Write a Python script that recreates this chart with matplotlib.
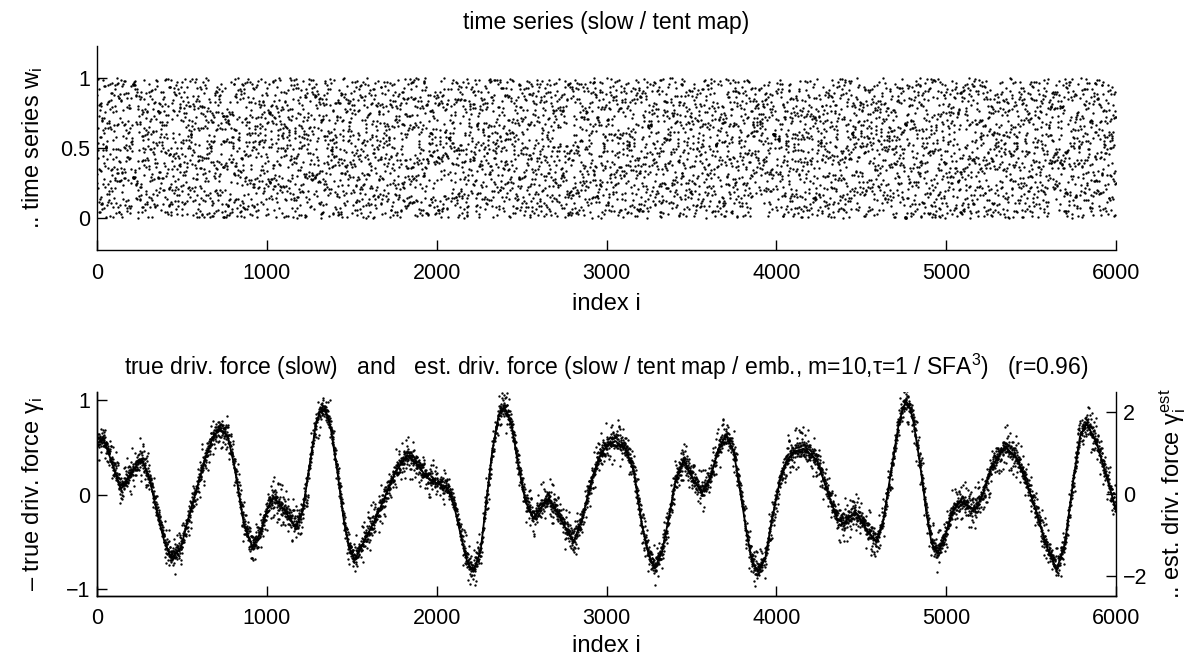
import numpy as np
import matplotlib
matplotlib.use("Agg")
import matplotlib.pyplot as plt

plt.rcParams['font.family'] = ['Liberation Sans', 'DejaVu Sans']
plt.rcParams['mathtext.fontset'] = 'custom'
plt.rcParams['mathtext.rm'] = 'Liberation Sans'

# true driving force (index, value)
force_idx = [0, 40, 92, 141, 200, 262, 308, 357, 396, 438, 494, 533, 582, 631,
             680, 719, 768, 807, 827, 866, 916, 965, 1004, 1039, 1102, 1170,
             1210, 1249, 1288, 1310, 1330, 1352, 1376, 1415, 1454, 1484, 1517,
             1572, 1641, 1700, 1759, 1827, 1886, 1945, 2004, 2063, 2102, 2141,
             2180, 2214, 2258, 2288, 2327, 2366, 2384, 2399, 2420, 2444, 2484,
             2523, 2572, 2611, 2660, 2709, 2758, 2807, 2857, 2906, 2955, 3004,
             3053, 3112, 3161, 3209, 3248, 3283, 3327, 3366, 3405, 3454, 3503,
             3562, 3611, 3660, 3704, 3749, 3788, 3827, 3857, 3892, 3935, 3975,
             4022, 4061, 4110, 4161, 4239, 4298, 4357, 4396, 4465, 4533, 4590,
             4631, 4680, 4718, 4745, 4765, 4785, 4806, 4845, 4884, 4914, 4949,
             4994, 5033, 5082, 5171, 5219, 5268, 5347, 5416, 5475, 5533, 5592,
             5651, 5700, 5749, 5788, 5827, 5886, 5945, 6000]
force_val = [0.55, 0.58, 0.32, 0.06, 0.23, 0.38, 0.18, -0.21, -0.49, -0.67,
             -0.56, -0.28, 0.03, 0.35, 0.60, 0.70, 0.63, 0.32, 0.11, -0.32,
             -0.55, -0.39, -0.14, -0.02, -0.16, -0.34, -0.18, 0.28, 0.74, 0.87,
             0.91, 0.86, 0.71, 0.25, -0.28, -0.56, -0.69, -0.49, -0.25, 0.00,
             0.25, 0.42, 0.32, 0.18, 0.12, 0.07, -0.11, -0.42, -0.71, -0.81,
             -0.60, -0.14, 0.46, 0.85, 0.91, 0.92, 0.85, 0.71, 0.28, -0.07,
             -0.25, -0.14, -0.04, -0.18, -0.35, -0.49, -0.25, 0.11, 0.39, 0.53,
             0.57, 0.49, 0.25, -0.32, -0.63, -0.78, -0.60, -0.25, 0.14, 0.37,
             0.19, 0.02, 0.18, 0.49, 0.63, 0.46, 0.03, -0.42, -0.71, -0.81,
             -0.67, -0.25, 0.16, 0.37, 0.46, 0.49, 0.37, 0.05, -0.25, -0.30,
             -0.18, -0.37, -0.50, -0.26, 0.30, 0.72, 0.92, 0.99, 0.93, 0.79,
             0.34, -0.19, -0.51, -0.62, -0.44, -0.19, -0.07, -0.16, 0.02, 0.30,
             0.51, 0.39, 0.12, -0.19, -0.55, -0.79, -0.51, 0.16, 0.62, 0.76,
             0.55, 0.19, -0.16]

n_points = 6000
est_scale = 2.3     # est. force is on the right axis scale

#-------------------------------------------------------------------------------
# tent map time series driven by the slow force
idx = np.arange(n_points)
gamma = np.interp(idx, force_idx, force_val)
w = np.zeros(n_points)
w[0] = 0.3141
for i in range(n_points - 1):
    u = (w[i] + 0.2 * gamma[i] + 0.137) % 1.0
    w[i + 1] = 1.0 - abs(2.0 * u - 1.0)

# estimated force scatters around the true one
d = 2.0 * w[::-1] - 1.0
est = est_scale * (gamma + 0.08 * d + 0.16 * d ** 9)

#-------------------------------------------------------------------------------
fig = plt.figure(figsize=(11.89, 6.59), dpi=100)
tick_fs = 15.5
label_fs = 17
title_fs = 16.5

ax1 = fig.add_axes([0.0816, 0.6206, 0.857, 0.3096])
ax1.plot(idx, w, ls='', marker='.', ms=1.4, color='k')
ax1.set_xlim(0, 6000)
ax1.set_ylim(-0.23, 1.23)
ax1.set_yticks([0, 0.5, 1])
ax1.set_yticklabels(['0', '0.5', '1'])
ax1.set_xticks(range(0, 6001, 1000))
ax1.set_xlabel('index i', fontsize=label_fs, labelpad=7)
ax1.set_ylabel('.. time series $\\mathregular{w_i}$', fontsize=label_fs)
ax1.yaxis.set_label_coords(-0.051, 0.5)
ax1.set_title('time series (slow / tent map)', fontsize=title_fs, pad=12)
ax1.spines['top'].set_visible(False)
ax1.spines['right'].set_visible(False)

ax2 = fig.add_axes([0.0816, 0.0956, 0.857, 0.3096])
ax3 = ax2.twinx()
ax3.plot(idx, est, ls='', marker='.', ms=1.4, color='k')
ax2.plot(force_idx, force_val, color='k', lw=1.3)
ax2.set_zorder(ax3.get_zorder() + 1)
ax2.patch.set_visible(False)
ax2.set_xlim(0, 6000)
ax2.set_ylim(-1.07, 1.09)
ax3.set_ylim(-2.49, 2.48)
ax2.set_yticks([-1, 0, 1])
ax3.set_yticks([-2, 0, 2])
ax2.set_xticks(range(0, 6001, 1000))
ax2.set_xlabel('index i', fontsize=label_fs, labelpad=4)
ax2.set_ylabel('\u2013 true driv. force $\\mathregular{\\gamma_i}$',
               fontsize=label_fs)
ax2.yaxis.set_label_coords(-0.05, 0.5)
ax3.set_ylabel('.. est. driv. force $\\mathregular{\\gamma_i^{est}}$',
               fontsize=label_fs)
ax3.yaxis.set_label_coords(1.04, 0.5)
ax2.set_title('true driv. force (slow)   and   est. driv. force '
              '(slow / tent map / emb., m=10,\u03c4=1 / SFA$\\mathregular{^3}$)'
              '   (r=0.96)', fontsize=title_fs, pad=12)
for ax in (ax2, ax3):
    ax.spines['top'].set_visible(False)
ax2.spines['right'].set_visible(False)

for ax in (ax1, ax2, ax3):
    ax.tick_params(direction='in', length=7, width=1, labelsize=tick_fs,
                   pad=5)
    ax.tick_params(axis='x', pad=9)
    for s in ax.spines.values():
        s.set_linewidth(1.0)

fig.savefig('out.png', dpi=100)
